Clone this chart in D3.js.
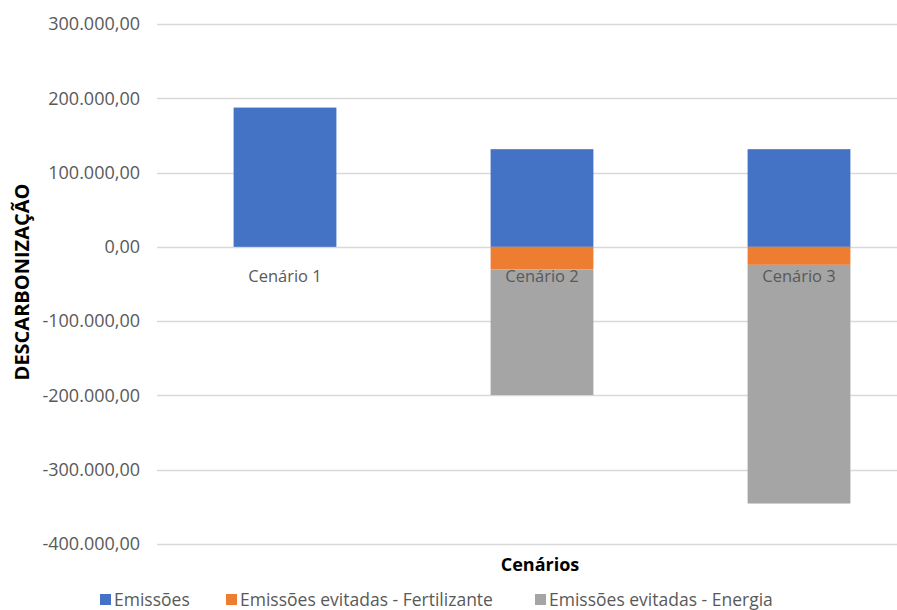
<!DOCTYPE html>
<html>
<head>
<meta charset="utf-8">
<script src="https://cdn.jsdelivr.net/npm/d3@7"></script>
<style>
  body { margin: 0; background: #fff; }
  text { font-family: 'Open Sans', 'Noto Sans', sans-serif; }
</style>
</head>
<body>
<div id="chart"></div>
<script>
const cenarios = ['Cenário 1', 'Cenário 2', 'Cenário 3']
const series = ['Emissões', 'Emissões evitadas - Fertilizante', 'Emissões evitadas - Energia']
const emissoes = [187500, 131500, 131500]
const fertilizante = [0, -30500, -24200]
const energia = [0, -169000, -321300]
const yTicks = [-400000, -300000, -200000, -100000, 0, 100000, 200000, 300000]
const colors = ['#4472c4', '#ed7d31', '#a5a5a5']

const width = 897
const height = 610

const svg = d3
  .select('#chart')
  .append('svg')
  .attr('width', width)
  .attr('height', height)

const rows = cenarios.map((c, i) => ({
  cenario: c,
  [series[0]]: emissoes[i],
  [series[1]]: fertilizante[i],
  [series[2]]: energia[i]
}))

const stacked = d3
  .stack()
  .keys(series)
  .offset(d3.stackOffsetDiverging)(rows)

// plot area runs past the right edge of the picture (it was cropped)
const x = d3
  .scaleBand()
  .domain(cenarios)
  .range([156.5, 927.5])
  .paddingInner(0.6)
  .paddingOuter(0.3)

const y = d3.scaleLinear().domain([-400000, 300000]).range([544, 24])

const br = d3.formatLocale({
  decimal: ',',
  thousands: '.',
  grouping: [3],
  currency: ['R$', ''],
  minus: '-'
})
const fmt = br.format(',.2f')

// gridlines
svg
  .append('g')
  .selectAll('line')
  .data(yTicks)
  .enter()
  .append('line')
  .attr('x1', 157)
  .attr('x2', width)
  .attr('y1', d => Math.round(y(d)) + 0.5)
  .attr('y2', d => Math.round(y(d)) + 0.5)
  .attr('stroke', '#d9d9d9')
  .attr('stroke-width', 1.5)

// tick labels
svg
  .append('g')
  .selectAll('text')
  .data(yTicks)
  .enter()
  .append('text')
  .attr('x', 140)
  .attr('y', d => y(d))
  .attr('dy', '0.35em')
  .attr('text-anchor', 'end')
  .attr('font-size', 18)
  .attr('fill', '#595959')
  .text(d => fmt(d))

// bars
svg
  .append('g')
  .selectAll('g')
  .data(stacked)
  .enter()
  .append('g')
  .attr('fill', (d, i) => colors[i])
  .selectAll('rect')
  .data(d => d)
  .enter()
  .append('rect')
  .attr('x', d => x(d.data.cenario))
  .attr('width', x.bandwidth())
  .attr('y', d => y(Math.max(d[0], d[1])))
  .attr('height', d => Math.abs(y(d[0]) - y(d[1])))

// category labels
svg
  .append('g')
  .selectAll('text')
  .data(cenarios)
  .enter()
  .append('text')
  .attr('x', d => x(d) + x.bandwidth() / 2)
  .attr('y', 282)
  .attr('text-anchor', 'middle')
  .attr('font-size', 16.5)
  .attr('fill', '#595959')
  .text(d => d)

// axis titles
svg
  .append('text')
  .attr('transform', 'translate(29,282) rotate(-90)')
  .attr('text-anchor', 'middle')
  .attr('font-size', 20)
  .attr('font-weight', 700)
  .attr('fill', '#000')
  .text('DESCARBONIZAÇÃO')

svg
  .append('text')
  .attr('x', 540)
  .attr('y', 571)
  .attr('text-anchor', 'middle')
  .attr('font-size', 18)
  .attr('font-weight', 700)
  .attr('fill', '#000')
  .text('Cenários')

// legend
const legendX = [100, 226, 535]
const legend = svg
  .append('g')
  .selectAll('g')
  .data(series)
  .enter()
  .append('g')
  .attr('transform', (d, i) => `translate(${legendX[i]},594)`)

legend
  .append('rect')
  .attr('width', 11)
  .attr('height', 11)
  .attr('fill', (d, i) => colors[i])

legend
  .append('text')
  .attr('x', 14)
  .attr('y', 11.5)
  .attr('font-size', 17.5)
  .attr('fill', '#595959')
  .text(d => d)
</script>
</body>
</html>
